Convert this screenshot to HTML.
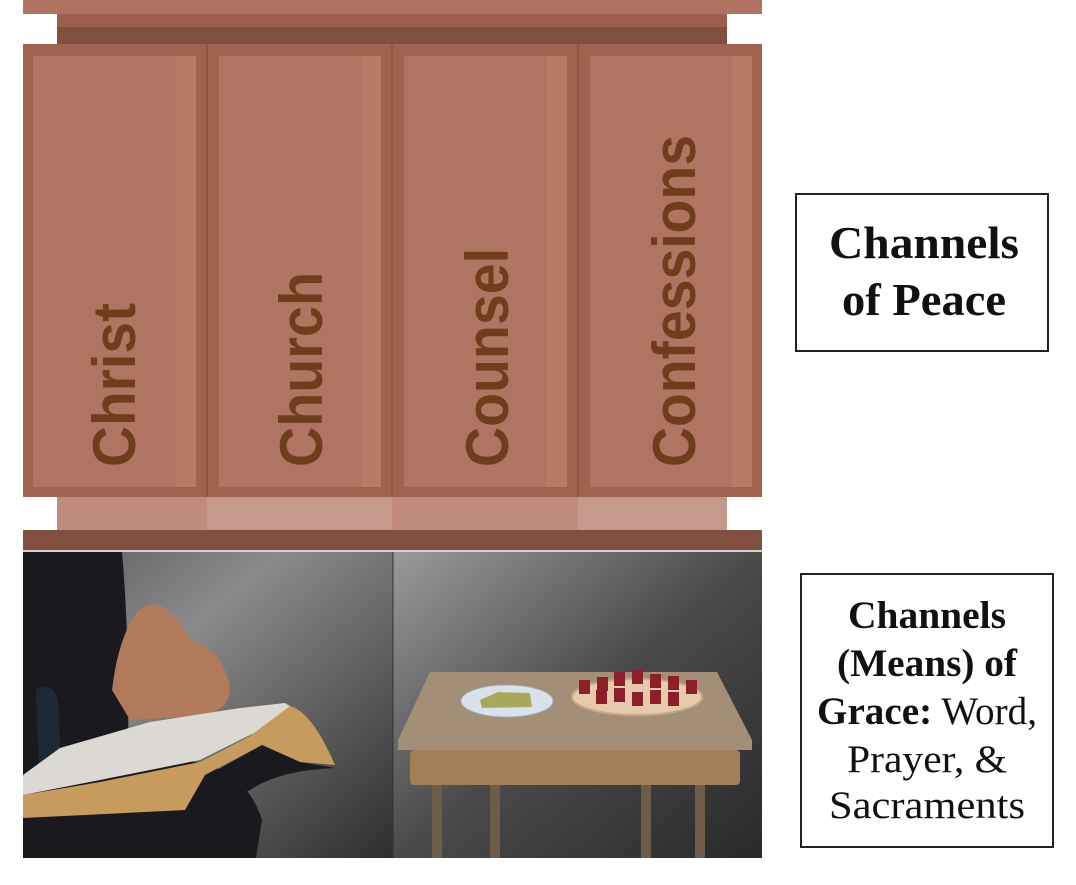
<!DOCTYPE html>
<html><head><meta charset="utf-8"><style>
html,body{margin:0;padding:0;background:#fff;}
svg{display:block}
</style></head><body>
<svg width="1076" height="885" viewBox="0 0 1076 885" xmlns="http://www.w3.org/2000/svg">
<defs>
<linearGradient id="bgL" x1="0" y1="0" x2="1" y2="1"><stop offset="0" stop-color="#5a5a5a"/><stop offset="0.35" stop-color="#8a8a8a"/><stop offset="1" stop-color="#2e2e2e"/></linearGradient>
<linearGradient id="bgR" x1="0" y1="0" x2="1" y2="1"><stop offset="0" stop-color="#9a9a9a"/><stop offset="0.5" stop-color="#4a4a4a"/><stop offset="1" stop-color="#2a2a2a"/></linearGradient>
</defs>
<rect x="23" y="0" width="739" height="14" fill="#b07261"/>
<rect x="57" y="14" width="670" height="13" fill="#9c5f4c"/>
<rect x="57" y="27" width="670" height="17" fill="#814f40"/>
<rect x="23" y="44" width="739" height="453" fill="#a0634f"/>
<g>
<rect x="33" y="56" width="163" height="431" fill="#b07562"/><rect x="176" y="56" width="20" height="431" fill="#b77b68"/>
<rect x="219" y="56" width="162" height="431" fill="#b07562"/><rect x="361" y="56" width="20" height="431" fill="#b77b68"/>
<rect x="404" y="56" width="163" height="431" fill="#b07562"/><rect x="547" y="56" width="20" height="431" fill="#b77b68"/>
<rect x="590" y="56" width="162" height="431" fill="#b07562"/><rect x="732" y="56" width="20" height="431" fill="#b77b68"/>
<line x1="207" y1="44" x2="207" y2="497" stroke="#8e5645" stroke-width="2"/>
<line x1="392" y1="44" x2="392" y2="497" stroke="#8e5645" stroke-width="2"/>
<line x1="578" y1="44" x2="578" y2="497" stroke="#8e5645" stroke-width="2"/>
</g>
<g font-family="Liberation Sans, sans-serif" font-weight="bold" font-size="60" fill="#6e3d1c">
<text transform="translate(135,467) rotate(-90)" textLength="164" lengthAdjust="spacingAndGlyphs">Christ</text>
<text transform="translate(322,467) rotate(-90)" textLength="195" lengthAdjust="spacingAndGlyphs">Church</text>
<text transform="translate(508,467) rotate(-90)" textLength="219" lengthAdjust="spacingAndGlyphs">Counsel</text>
<text transform="translate(695,467) rotate(-90)" textLength="332" lengthAdjust="spacingAndGlyphs">Confessions</text>
</g>
<rect x="57" y="497" width="150" height="33" fill="#bf8b7c"/>
<rect x="207" y="497" width="185" height="33" fill="#c59a8c"/>
<rect x="392" y="497" width="186" height="33" fill="#bf8b7c"/>
<rect x="578" y="497" width="149" height="33" fill="#c59a8c"/>
<rect x="23" y="530" width="739" height="20" fill="#814f40"/>
<rect x="23" y="550" width="739" height="2" fill="#d8d0cc"/>
<rect x="23" y="552" width="370" height="306" fill="url(#bgL)"/>
<rect x="393" y="552" width="369" height="306" fill="url(#bgR)"/>
<line x1="393" y1="552" x2="393" y2="858" stroke="#333" stroke-width="1"/>
<!-- figure -->
<path d="M23 552 H122 Q128 620 128 700 L130 858 H23 Z" fill="#1a191d"/>
<path d="M36 690 Q50 680 58 700 L62 790 L40 800 Z" fill="#1d2a33"/>
<path d="M23 780 L180 760 Q245 765 262 820 L256 858 H23 Z" fill="#1a191d"/>
<path d="M112 690 Q118 640 135 615 Q150 598 165 608 Q180 620 190 640 Q225 650 230 690 Q228 712 200 716 L130 720 Z" fill="#b07a5b"/>
<path d="M23 775 L60 748 L150 722 L240 708 L285 703 L300 712 L250 735 L200 760 L100 780 L23 795 Z" fill="#dcd9d4"/>
<path d="M23 795 L100 782 L200 762 L250 736 L290 706 Q312 712 335 765 L300 762 L262 745 L205 775 L185 810 L23 818 Z" fill="#c79b5e"/>
<path d="M208 775 L262 745 L300 762 L335 768 Q280 770 250 790 L190 812 Z" fill="#1a191d"/>
<!-- table -->
<path d="M430 672 H717 L752 740 V750 H398 V740 Z" fill="#a38f78"/>
<rect x="410" y="750" width="330" height="35" rx="4" fill="#a37e58"/>
<rect x="432" y="785" width="10" height="73" fill="#6e5c4a"/>
<rect x="490" y="785" width="10" height="73" fill="#6e5c4a"/>
<rect x="641" y="785" width="10" height="73" fill="#6e5c4a"/>
<rect x="695" y="785" width="10" height="73" fill="#6e5c4a"/>
<ellipse cx="507" cy="701" rx="46" ry="16" fill="#d9e2ea" stroke="#aab" stroke-width="1"/>
<path d="M480 700 L498 692 L530 693 L532 707 L482 708 Z" fill="#a7a85a"/>
<ellipse cx="637" cy="697" rx="65" ry="18" fill="#e5cbac" stroke="#c9a884" stroke-width="2"/>
<g fill="#8c1f2a">
<rect x="579" y="680" width="11" height="14"/><rect x="597" y="677" width="11" height="14"/><rect x="614" y="672" width="11" height="14"/><rect x="632" y="670" width="11" height="14"/><rect x="650" y="674" width="11" height="14"/><rect x="668" y="676" width="11" height="14"/><rect x="686" y="680" width="11" height="14"/>
<rect x="596" y="690" width="11" height="14"/><rect x="614" y="688" width="11" height="14"/><rect x="632" y="692" width="11" height="14"/><rect x="650" y="690" width="11" height="14"/><rect x="668" y="692" width="11" height="14"/>
</g>
<rect x="796" y="194" width="252" height="157" fill="#fff" stroke="#222" stroke-width="2"/>
<g font-family="Liberation Serif, serif" font-weight="bold" font-size="46" fill="#111" text-anchor="middle">
<text x="924" y="258" textLength="190" lengthAdjust="spacingAndGlyphs">Channels</text>
<text x="924" y="315" textLength="164" lengthAdjust="spacingAndGlyphs">of Peace</text>
</g>
<rect x="801" y="574" width="252" height="273" fill="#fff" stroke="#222" stroke-width="2"/>
<g font-family="Liberation Serif, serif" font-size="39" fill="#111" text-anchor="middle">
<text x="927" y="628" font-weight="bold" textLength="158" lengthAdjust="spacingAndGlyphs">Channels</text>
<text x="927" y="676" font-weight="bold" textLength="180" lengthAdjust="spacingAndGlyphs">(Means) of</text>
<text x="927" y="724" textLength="220" lengthAdjust="spacingAndGlyphs"><tspan font-weight="bold">Grace:</tspan> Word,</text>
<text x="927" y="772" textLength="160" lengthAdjust="spacingAndGlyphs">Prayer, &amp;</text>
<text x="927" y="818" textLength="196" lengthAdjust="spacingAndGlyphs">Sacraments</text>
</g>
</svg>
</body></html>
